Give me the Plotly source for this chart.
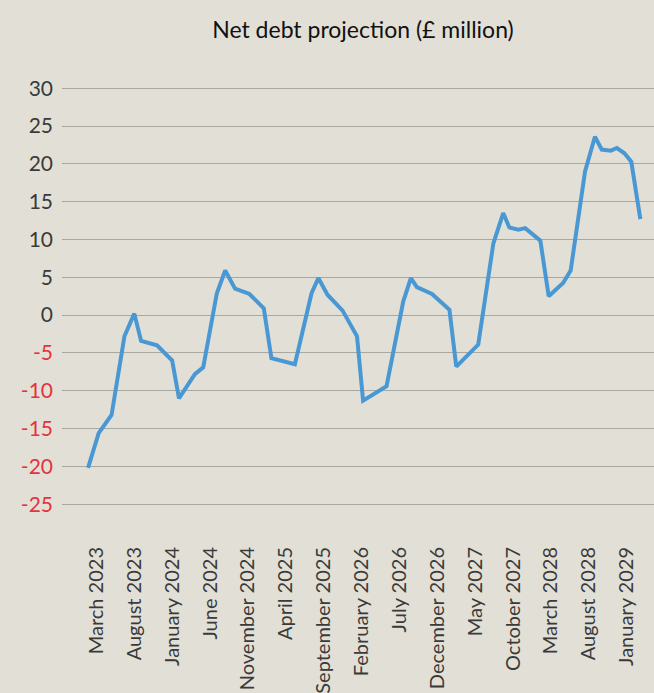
import plotly.graph_objects as go

# x: months after March 2023, y: net debt (£ million)
month_offset = [-1.1, 0.3, 2.0, 3.7, 5.0, 5.9, 8.0, 10.0, 10.9, 13.0, 14.1, 15.9, 17.0,
                18.3, 20.2, 22.1, 23.1, 26.2, 28.4, 29.3, 30.5, 32.5, 34.4, 35.2, 38.3,
                40.5, 41.5, 42.3, 44.3, 46.6, 47.5, 50.4, 52.4, 53.7, 54.5, 55.7, 56.6,
                58.6, 59.7, 61.6, 62.6, 64.5, 65.8, 66.7, 67.9, 68.7, 69.7, 70.6, 71.8]
net_debt = [-20.2, -15.6, -13.2, -2.8, 0.2, -3.4, -4.0, -6.0, -11.0, -7.8, -6.9, 2.9, 5.9,
            3.5, 2.8, 0.9, -5.7, -6.5, 2.9, 4.9, 2.7, 0.6, -2.8, -11.3, -9.4,
            1.8, 4.9, 3.7, 2.8, 0.7, -6.8, -3.9, 9.5, 13.5, 11.6, 11.3, 11.5,
            9.85, 2.5, 4.25, 5.9, 19.0, 23.6, 21.9, 21.75, 22.1, 21.4, 20.3, 12.7]

tick_months = [0, 5, 10, 15, 20, 25, 30, 35, 40, 45, 50, 55, 60, 65, 70]
tick_labels = ["March 2023", "August 2023", "January 2024", "June 2024", "November 2024",
               "April 2025", "September 2025", "February 2026", "July 2026", "December 2026",
               "May 2027", "October 2027", "March 2028", "August 2028", "January 2029"]

y_ticks = [30, 25, 20, 15, 10, 5, 0, -5, -10, -15, -20, -25]
y_labels = [str(v) if v >= 0 else f'<span style="color:#E5323C">{v}</span>' for v in y_ticks]

BG = "#E2E0D6"

fig = go.Figure()
fig.add_trace(go.Scatter(
    x=month_offset, y=net_debt, mode="lines",
    line=dict(color="#4A98D3", width=4),
    hoverinfo="skip", showlegend=False,
))

fig.update_layout(
    width=654, height=693,
    paper_bgcolor=BG, plot_bgcolor=BG,
    margin=dict(l=62, r=0, t=86, b=151),
    font=dict(family="Lato, sans-serif", size=20, color="#3A3A3A"),
    title=dict(text="Net debt projection (£ million)", x=0.555, xanchor="center",
               y=0.957, yanchor="middle",
               font=dict(family="Lato, sans-serif", size=23, color="#111111")),
    xaxis=dict(range=[-4.54, 73.6], tickmode="array", tickvals=tick_months,
               ticktext=tick_labels, tickangle=-90, showgrid=False, zeroline=False,
               showline=False, ticks="", tickfont=dict(size=20, color="#3A3A3A")),
    yaxis=dict(range=[-30, 30.3], tickmode="array", tickvals=y_ticks, ticktext=y_labels,
               showgrid=True, gridcolor="#A9A7A1", gridwidth=1.4, zeroline=False,
               showline=False, ticks="", ticklabelstandoff=8,
               tickfont=dict(size=21, color="#3A3A3A")),
)

fig.write_html("out.html")
